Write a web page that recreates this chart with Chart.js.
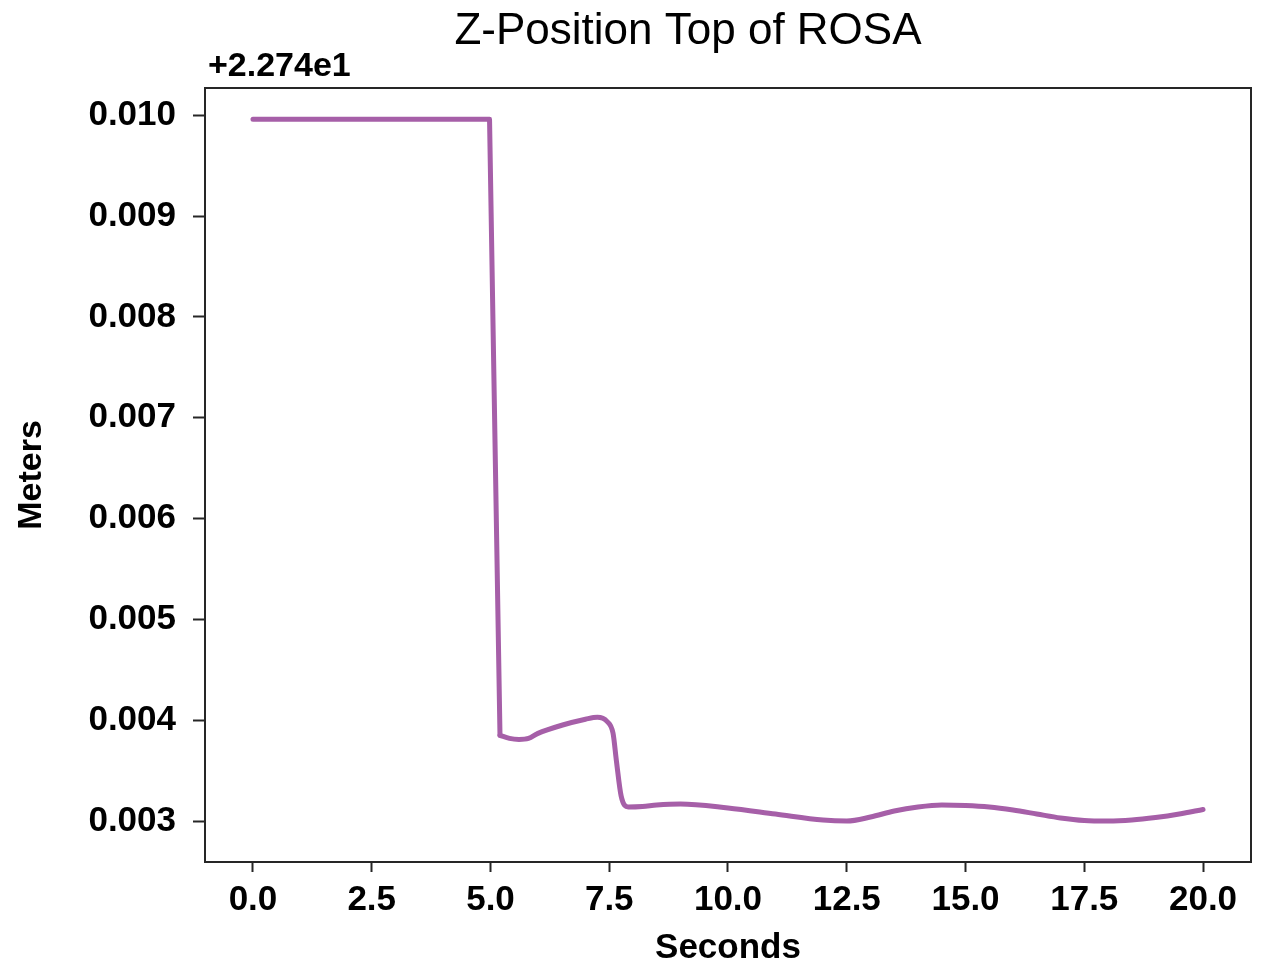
<!DOCTYPE html>
<html>
<head>
<meta charset="utf-8">
<script src="https://cdn.jsdelivr.net/npm/chart.js@4.4.1/dist/chart.umd.min.js"></script>
<style>
  html, body { margin: 0; padding: 0; background: #ffffff; }
  #wrap { width: 1261px; height: 962px; position: relative; }
</style>
</head>
<body>
<div id="wrap"><canvas id="c" width="1261" height="962"></canvas></div>
<script>
// ---- data (values are offsets from 2.274e1 m) ----
const chartTitle = "Z-Position Top of ROSA";
const offsetLabel = "+2.274e1";
const xAxisTitle = "Seconds";
const yAxisTitle = "Meters";

const timeSeconds = [0.0, 1.0, 2.0, 3.0, 4.0, 4.98, 5.2, 5.4, 5.6, 5.8, 6.0, 6.5, 7.0, 7.25, 7.45, 7.58, 7.65, 7.75, 7.9, 8.2, 8.5, 9.0, 10.0, 11.0, 12.0, 12.5, 13.0, 13.5, 14.0, 14.5, 15.0, 15.5, 16.0, 16.5, 17.0, 17.5, 18.0, 18.5, 19.0, 19.5, 20.0];
const zOffsetMeters = [0.00996, 0.00996, 0.00996, 0.00996, 0.00996, 0.00996, 0.00385, 0.00382, 0.00381, 0.00382, 0.00387, 0.00395, 0.00401, 0.00403, 0.00399, 0.00387, 0.00360, 0.00325, 0.00314, 0.003145, 0.00316, 0.00317, 0.00313, 0.00307, 0.00301, 0.00300, 0.00304, 0.00310, 0.00314, 0.00316, 0.003155, 0.00314, 0.00311, 0.00307, 0.00303, 0.003005, 0.00300, 0.00301, 0.003035, 0.00307, 0.003115];
const stepEndIndex = 6; // sample where the sudden drop ends (t = 5.2 s)

const xTickValues = [0.0, 2.5, 5.0, 7.5, 10.0, 12.5, 15.0, 17.5, 20.0];
const yTickValues = [0.003, 0.004, 0.005, 0.006, 0.007, 0.008, 0.009, 0.010];

const points = timeSeconds.map((t, i) => ({ x: t, y: zOffsetMeters[i] }));
const stepPart = points.slice(0, stepEndIndex + 1);
const settlePart = points.slice(stepEndIndex);

const FONT = "'Liberation Sans', Arial, sans-serif";
const lineColor = "#a65fa8";
const frameColor = "#262626";

const decorPlugin = {
  id: 'decor',
  afterDraw(chart) {
    const ctx = chart.ctx;
    const a = chart.chartArea;
    ctx.save();
    ctx.strokeStyle = frameColor;
    ctx.lineWidth = 2;
    ctx.strokeRect(a.left, a.top, a.right - a.left, a.bottom - a.top);
    ctx.fillStyle = '#000';
    ctx.font = "44px " + FONT;
    ctx.textAlign = 'center';
    ctx.textBaseline = 'alphabetic';
    ctx.fillText(chartTitle, 688, 44);
    ctx.font = "bold 34px " + FONT;
    ctx.textAlign = 'left';
    ctx.fillText(offsetLabel, a.left + 3, 76);
    ctx.restore();
  }
};

const lineStyle = {
  borderColor: lineColor,
  borderWidth: 5,
  pointRadius: 0,
  fill: false,
  borderJoinStyle: 'round',
  borderCapStyle: 'round'
};

new Chart(document.getElementById('c'), {
  type: 'line',
  data: {
    datasets: [
      Object.assign({ data: stepPart, tension: 0 }, lineStyle),
      Object.assign({ data: settlePart, cubicInterpolationMode: 'monotone' }, lineStyle)
    ]
  },
  options: {
    responsive: false,
    animation: false,
    devicePixelRatio: 1,
    layout: { padding: { top: 88, right: 10, left: 0, bottom: 0 } },
    plugins: { legend: { display: false }, tooltip: { enabled: false }, title: { display: false } },
    scales: {
      x: {
        type: 'linear',
        min: -1.01,
        max: 21.01,
        afterBuildTicks(scale) { scale.ticks = xTickValues.map(v => ({ value: v })); },
        afterFit(scale) { scale.height = 100; },
        ticks: {
          color: '#000',
          font: { family: FONT, size: 35, weight: 'bold' },
          padding: 7,
          maxRotation: 0,
          autoSkip: false,
          callback: (v) => Number(v).toFixed(1)
        },
        grid: { display: true, drawOnChartArea: false, drawTicks: true, tickLength: 10, tickColor: frameColor, tickWidth: 2 },
        border: { display: true, color: frameColor, width: 2 },
        title: {
          display: true, text: xAxisTitle, color: '#000',
          font: { family: FONT, size: 35, weight: 'bold', lineHeight: 0.8 },
          padding: { top: 0, bottom: 0 }
        }
      },
      y: {
        type: 'linear',
        min: 0.002594,
        max: 0.01027,
        afterBuildTicks(scale) { scale.ticks = yTickValues.map(v => ({ value: v })); },
        afterFit(scale) { scale.width = 205; },
        ticks: {
          color: '#000',
          font: { family: FONT, size: 35, weight: 'bold' },
          padding: 17,
          autoSkip: false,
          callback: (v) => Number(v).toFixed(3)
        },
        grid: { display: true, drawOnChartArea: false, drawTicks: true, tickLength: 12, tickColor: frameColor, tickWidth: 2 },
        border: { display: true, color: frameColor, width: 2 },
        title: {
          display: true, text: yAxisTitle, color: '#000',
          font: { family: FONT, size: 34, weight: 'bold', lineHeight: 1 },
          padding: { top: 15, bottom: 0 }
        }
      }
    }
  },
  plugins: [decorPlugin]
});
</script>
</body>
</html>
